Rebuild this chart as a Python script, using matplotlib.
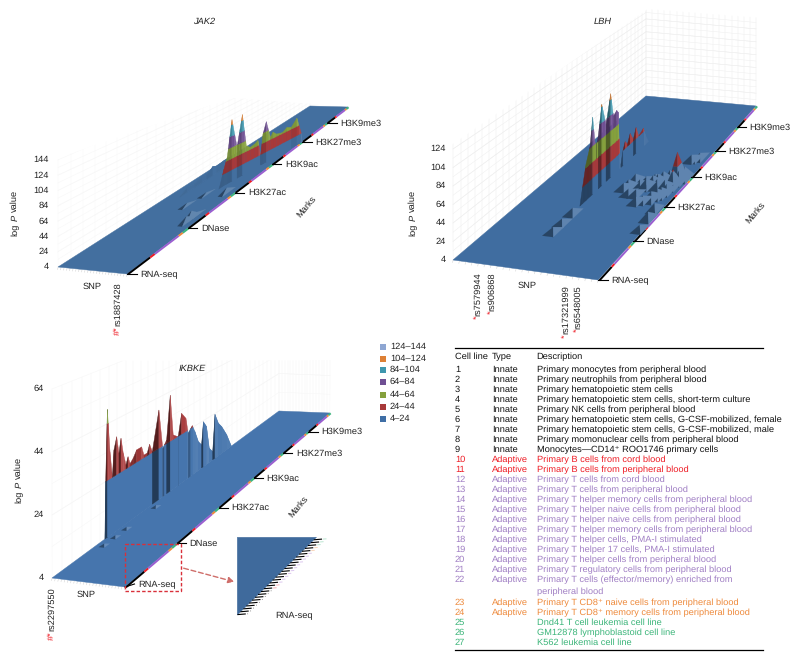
import numpy as np
import matplotlib
matplotlib.use("Agg")
import matplotlib.pyplot as plt
from matplotlib.collections import PolyCollection
from matplotlib.patches import Polygon, Rectangle

plt.rcParams['font.family'] = ['Liberation Sans', 'DejaVu Sans']
plt.rcParams['text.hinting'] = 'no_hinting'
plt.rcParams['text.hinting_factor'] = 8

# ---------- data ----------
BAND_LABELS = ['124–144', '104–124', '84–104', '64–84', '44–64', '24–44', '4–24']
BAND_LOW = [124, 104, 84, 64, 44, 24, 4]
BAND_COLORS = ['#8ea6d2', '#dd8035', '#3e97ae', '#6f4f93', '#85a03c', '#a8393a', '#3f6ea5']
MARKS = ['RNA-seq', 'DNase', 'H3K27ac', 'H3K9ac', 'H3K27me3', 'H3K9me3']
CELL_GROUP_SIZES = [9, 2, 11, 2, 3]
CELL_GROUP_COLORS = ['#000000', '#ee1c25', '#9b5fd0', '#ee8a3c', '#3bb57c']

JAK2_MAIN_T = [.50, .504, .522, .537, .557, .579, .602, .619, .636, .655, .669, .681, .691, .705, .723, .734,
               .749, .763, .775, .794, .813, .837, .856, .86]
JAK2_MAIN_V = [4, 7, 32, 51, 113, 60, 115, 54, 48, 50, 54, 23, 62, 83, 48, 56, 49, 47, 46, 52, 48, 62, 24, 4]
JAK2_BACK_T = [.44, .47, .50, .53, .55, .574, .59, .62, .66, .70, .74, .76]
JAK2_BACK_V = [4, 12, 10, 14, 12, 20, 16, 18, 16, 14, 12, 4]
JAK2_BUMP_S = [.85, .85, .85, .85, .55, .50]
JAK2_BUMP_T = [.31, .332, .355, .488, .47, .40]
JAK2_BUMP_V = [12, 15, 7, 11, 6, 7]

LBH_MAIN_T = [.37, .385, .405, .427, .442, .455, .464, .473, .493, .517, .543, .558, .577, .585, .592, .60, .612,
              .624, .637, .652, .67, .685, .70, .726, .74, .755]
LBH_MAIN_V = [4, 24, 49, 66, 100, 66, 62, 70, 107, 77, 112, 80, 84, 80, 30, 8, 24, 33, 27, 38, 26, 39, 24, 29, 15, 4]
LBH_BUMP_S = [.42, .42, .42, .62, .63, .69, .74, .775, .80, .83, .87, .915, .93, .96, .59, .77, .81, .85, .885, .905,
              .92, .95, .96, .97, .88, .93, .90, .66, .72, .70, .76, .82, .88, .94, .86]
LBH_BUMP_T = [.22, .27, .33, .50, .535, .515, .515, .53, .54, .55, .56, .57, .53, .58, .495, .43, .44, .46, .47, .48,
              .50, .40, .35, .29, .685, .70, .69, .47, .47, .545, .555, .52, .52, .56, .45]
LBH_BUMP_V = [9, 9, 10, 14, 14, 12, 14, 16, 16, 18, 18, 40, 26, 20, 10, 10, 10, 12, 14, 14,
              14, 12, 12, 9, 10, 10, 8, 9, 10, 10, 12, 14, 14, 18, 8]

IKBKE_MAIN_T = [.233, .2365, .244, .2555, .266, .273, .285, .295, .304, .314, .326, .335, .344, .358, .373, .395, .405,
                .42, .43, .442, .471, .488, .505, .521, .534, .556, .571, .59, .60, .618, .63, .645, .659, .667, .681,
                .693, .708, .718, .733, .748, .77, .79]
IKBKE_MAIN_V = [4, 24, 49, 33.6, 24.3, 33.4, 37.6, 31.2, 36.2, 30.3, 25.5, 28, 25, 26.3, 28.6, 28.6, 25,
                25, 27.8, 24.3, 39, 23, 25.4, 42.5, 25.8, 23.8, 32.6, 29.5, 22.7, 24.8, 21.5, 16.3, 14, 23.5, 20.5,
                10.2, 7.6, 23.6, 18.6, 16, 10.7, 4]
IKBKE_BUMP_S = [.10, .10, .10, .10]
IKBKE_BUMP_T = [.20, .25, .30, .43]
IKBKE_BUMP_V = [4.6, 4.6, 4.6, 4.6]

CELL_IDS = ['1', '2', '3', '4', '5', '6', '7', '8', '9', '10', '11', '12', '13', '14', '15', '16', '17', '18', '19',
            '20', '21', '22', '', '23', '24', '25', '26', '27']
CELL_TYPES = ['Innate'] * 9 + ['Adaptive'] * 2 + ['Adaptive'] * 11 + [''] + ['Adaptive'] * 2 + [''] * 3
CELL_DESCS = ['Primary monocytes from peripheral blood', 'Primary neutrophils from peripheral blood',
              'Primary hematopoietic stem cells', 'Primary hematopoietic stem cells, short-term culture',
              'Primary NK cells from peripheral blood', 'Primary hematopoietic stem cells, G-CSF-mobilized, female',
              'Primary hematopoietic stem cells, G-CSF-mobilized, male', 'Primary momonuclear cells from peripheral blood',
              'Monocytes—CD14⁺ ROO1746 primary cells', 'Primary B cells from cord blood',
              'Primary B cells from peripheral blood', 'Primary T cells from cord blood',
              'Primary T cells from peripheral blood', 'Primary T helper memory cells from peripheral blood',
              'Primary T helper naive cells from peripheral blood', 'Primary T helper naive cells from peripheral blood',
              'Primary T helper memory cells from peripheral blood', 'Primary T helper cells, PMA-I stimulated',
              'Primary T helper 17 cells, PMA-I stimulated', 'Primary T helper cells from peripheral blood',
              'Primary T regulatory cells from peripheral blood', 'Primary T cells (effector/memory) enriched from',
              'peripheral blood', 'Primary T CD8⁺ naive cells from peripheral blood',
              'Primary T CD8⁺ memory cells from peripheral blood', 'Dnd41 T cell leukemia cell line',
              'GM12878 lymphoblastoid cell line', 'K562 leukemia cell line']
CELL_COLORS = ['k'] * 9 + ['r'] * 2 + ['p'] * 12 + ['o'] * 2 + ['g'] * 3

# ---------- page ----------
fig = plt.figure(figsize=(8.0, 6.59), dpi=100)
ax = fig.add_axes([0, 0, 1, 1])
ax.set_xlim(0, 800)
ax.set_ylim(659, 0)
ax.axis('off')
FS = 6.7
LEVELS = sorted(BAND_LOW) + [144]
LOW2COLOR = dict(zip(BAND_LOW, BAND_COLORS))


def shade(c, f):
    rgb = np.array(matplotlib.colors.to_rgb(c))
    if f < 1:
        return tuple(rgb * f)
    return tuple(rgb + (1 - rgb) * (f - 1))


class Panel:
    def __init__(self, fl, fr, bl, br, vs, a, plane, dark, wall, wall_col, rna_dy=0):
        self.fl, self.fr, self.bl, self.br = map(np.array, (fl, fr, bl, br))
        self.vs, self.a, self.plane, self.dark = vs, a, plane, dark
        self.wall, self.wall_col, self.rna_dy = wall, wall_col, rna_dy

    def P(self, s, t, v=4.0, drop=None):
        s, t, v = np.broadcast_arrays(np.asarray(s, float), np.asarray(t, float), np.asarray(v, float))
        fx = (1 - s) * self.fl[0] + s * self.fr[0]
        fy = (1 - s) * self.fl[1] + s * self.fr[1]
        bx = (1 - s) * self.bl[0] + s * self.br[0]
        by = (1 - s) * self.bl[1] + s * self.br[1]
        sc = self.vs * (1 - (self.a - 1) / self.a * t)
        y = (1 - t) * fy + t * by - (v - 4) * sc
        if drop is not None:
            y = y + np.clip((t - drop[0]) / (drop[1] - drop[0]), 0, 1) * drop[2]
        return (1 - t) * fx + t * bx, y

    def persp(self, m):
        return self.a * m / (1 + (self.a - 1) * m)

    def color(self, lo):
        return self.plane if lo == 4 else LOW2COLOR[lo]


def walls(p, vtop, zticks):
    clip = Polygon(p.wall, closed=True, transform=ax.transData, fc='none', ec='none')
    ax.add_patch(clip)
    segs = []
    for v in list(zticks) + list(np.arange(4, vtop, 10.0)):
        segs.append(p.P(0.0, np.array([0, 1.0]), v))
        segs.append(p.P(np.array([0, 1.0]), 1.0, v))
    for m in np.linspace(0, 1, 37):
        segs.append(p.P(0.0, p.persp(m), np.array([4, vtop])))
    for s in np.linspace(0, 1, 19):
        segs.append(p.P(s, 1.0, np.array([4, vtop])))
    for xs, ys in segs:
        ln, = ax.plot(xs, ys, color=p.wall_col, lw=0.35, zorder=1)
        ln.set_clip_path(clip)


def plane(p):
    xs, ys = p.P(np.array([0, 1, 1, 0.]), np.array([0, 0, 1, 1.]))
    ax.add_patch(Polygon(np.c_[xs, ys], closed=True, fc=p.plane, ec=p.plane, lw=0.3, zorder=2))
    for s in np.linspace(0, 1, 24):
        x, y = p.P(s, 0.0)
        ax.plot([x, x - 0.5], [y + 0.5, y + 2.5], color='#d4d4d4', lw=0.4, zorder=1.5)
    n = sum(CELL_GROUP_SIZES)
    for k in range(len(MARKS)):
        pos = 0
        for size, c in zip(CELL_GROUP_SIZES, CELL_GROUP_COLORS):
            ts = p.persp((k + np.array([pos, pos + size]) / n) / len(MARKS))
            x, y = p.P(1.008, ts)
            ax.plot(x + 0.3, y + 0.3, color=c, lw=1.4, zorder=2.5, solid_capstyle='butt')
            pos += size
    for k, name in enumerate(MARKS):
        x, y = p.P(1.0, p.persp(k / len(MARKS)))
        dy = p.rna_dy if k == 0 else 0
        ax.plot([x, x + 9.5], [y, y + dy], color='k', lw=0.8, zorder=6)
        ax.text(x + 13, y + 0.5 + dy, name, fontsize=FS, va='center', ha='left', zorder=6, color='#222222')


def ridge(p, s, ts, vs, base_f=1.0, drop=None):
    tt, vv, rr = [ts[0]], [vs[0]], []
    for t0, t1, v0, v1 in zip(ts[:-1], ts[1:], vs[:-1], vs[1:]):
        crossings = [l for l in LEVELS if min(v0, v1) < l < max(v0, v1)]
        crossings.sort(reverse=v1 < v0)
        for l in crossings:
            tt.append(t0 + (l - v0) / (v1 - v0) * (t1 - t0))
            vv.append(l)
            rr.append(v1 - v0)
        tt.append(t1)
        vv.append(v1)
        rr.append(v1 - v0)
    polys, cols = [], []
    for t0, t1, v0, v1, rise in zip(tt[:-1], tt[1:], vv[:-1], vv[1:], rr):
        x0, y0 = p.P(s, t0, v0, drop)
        x1, y1 = p.P(s, t1, v1, drop)
        slope = (y0 - y1) / max(x1 - x0, 0.05)
        f = 1 - p.dark * np.clip(slope / 4, 0, 1) if slope > 0 else 1 + 0.10 * np.clip(-slope / 4, 0, 1)
        for lo, hi in zip(LEVELS[:-1], LEVELS[1:]):
            if max(v0, v1) <= lo:
                continue
            below = min(v0, v1) >= hi
            fb = f if (not below or rise >= 12) else 1.0
            if lo == 4 and fb == 1.0:
                fb = base_f
            a0, b0 = p.P(s, t0, lo, drop)
            a1, b1 = p.P(s, t1, lo, drop)
            c0, d0 = p.P(s, t0, min(v0, hi), drop)
            c1, d1 = p.P(s, t1, min(v1, hi), drop)
            polys.append([(a0, b0), (a1, b1), (c1, d1), (c0, d0)])
            cols.append(shade(p.color(lo), fb))
    xu, yu = p.P(s, np.array(ts), np.minimum(vs, 24.0), drop)
    xb, yb = p.P(s, np.array(ts), 4.0, drop)
    ax.fill(np.r_[xu, xb[::-1]], np.r_[yu, yb[::-1]], color=shade(p.plane, base_f), lw=0, zorder=2.9)
    ax.add_collection(PolyCollection(polys, facecolors=cols, edgecolors=cols, linewidths=0.3, zorder=3))


def pyramids(p, ss, ts, vs, ds=0.04, dt=0.03, z=4):
    order = sorted(range(len(ss)), key=lambda i: (-ts[i], ss[i]))
    for n, i in enumerate(order):
        s, t, v = ss[i], ts[i], vs[i]
        faces = [((s - ds, t - dt), (s + ds, t - dt), 0.62), ((s + ds, t - dt), (s + ds, t + dt), 1.16)]
        for (c1, c2, f) in faces:
            for lo, hi in zip(LEVELS[:-1], LEVELS[1:]):
                if v <= lo:
                    continue
                fa, fb = (lo - 4) / (v - 4), (min(v, hi) - 4) / (v - 4)
                pts = []
                for (cs, ct), fr in ((c1, fa), (c2, fa), (c2, fb), (c1, fb)):
                    x, y = p.P(cs + (s - cs) * fr, ct + (t - ct) * fr, 4 + (v - 4) * fr)
                    pts.append((float(x), float(y)))
                col = shade(p.color(lo), f if lo == 4 else (0.7 if f < 1 else 1.0))
                ax.add_patch(Polygon(pts, closed=True, fc=col, ec=col, lw=0.1, zorder=z + n * 0.001))


def log_p_label(x, yc):
    kw = dict(rotation=90, ha='center', va='bottom', fontsize=FS, color='#222222')
    y0 = yc + 23
    ax.text(x, y0, 'log', **kw)
    ax.text(x, y0 - 15, 'P', style='italic', **kw)
    ax.text(x, y0 - 23.8, 'value', **kw)


def axis_text(p, ticks, lx, title, tx, ylab, snp, marks):
    for v in ticks:
        _, y = p.P(0.0, 0.0, v)
        ax.text(lx, float(y), str(v), ha='right', va='center', fontsize=FS, color='#222222')
    ax.text(*title, tx, style='italic', ha='center', va='center', fontsize=FS, color='#222222')
    log_p_label(*ylab)
    ax.text(*snp, 'SNP', ha='center', va='center', fontsize=FS, color='#222222')
    ax.text(*marks, 'Marks', rotation=50, ha='center', va='center', fontsize=FS, color='#222222')


def rs_label(x, ytop, name, tag):
    t = ax.text(x, ytop, name, rotation=90, ha='center', va='top', fontsize=FS, color='#222222')
    bb = t.get_window_extent(fig.canvas.get_renderer())
    ax.text(x - 0.5, ytop + bb.height + 0.2, tag, rotation=90, ha='center', va='top', fontsize=FS, color='#ee1c25')


# ---------- JAK2 ----------
jak = Panel((58, 267), (127, 274), (310, 106), (348, 107), 0.765, 1.906, '#436f9f', 0.15,
            [(52, 160), (233, 98), (350, 107), (127, 274), (58, 267)], '#f7f7f7')
walls(jak, 144, [4, 24, 44, 64, 84, 104, 124, 144])
plane(jak)
ridge(jak, 0.2, JAK2_BACK_T, JAK2_BACK_V, base_f=1.12)
ridge(jak, 0.65, JAK2_MAIN_T, JAK2_MAIN_V, drop=(.52, .856, 12))
pyramids(jak, JAK2_BUMP_S, JAK2_BUMP_T, JAK2_BUMP_V)
axis_text(jak, [4, 24, 44, 64, 84, 104, 124, 144], 49, (204, 22), 'JAK2', (15, 213), (92, 287), (306, 207))
rs_label(118, 282, 'rs1887428', '#*')

# ---------- LBH ----------
lbh = Panel((453, 260), (598, 280), (646, 96), (756, 106), 0.925, 1.44, '#406da0', 0.4,
            [(447, 148), (648, 9), (763, 18), (756, 106), (598, 280), (453, 260)], '#eeeeee')
walls(lbh, 164, [4, 24, 44, 64, 84, 104, 124, 144])
plane(lbh)
ridge(lbh, 0.42, LBH_MAIN_T, LBH_MAIN_V)
pyramids(lbh, LBH_BUMP_S, LBH_BUMP_T, LBH_BUMP_V)
axis_text(lbh, [4, 24, 44, 64, 84, 104, 124], 446, (603, 22), 'LBH', (413, 213), (527, 286), (755, 213))
rs_label(478, 272, 'rs7579944', '*')
rs_label(492, 272, 'rs906868', '*')
rs_label(566, 285, 'rs17321999', '*')
rs_label(578, 285, 'rs6548005', '*')

# ---------- IKBKE ----------
ikb = Panel((52, 578), (125, 587), (279, 411), (330, 413), 3.15, 1.68, '#4675ad', 0.5,
            [(48, 387), (107, 361), (332, 360), (330, 413), (125, 587), (52, 578)], '#f6f6f6', rna_dy=-3)
walls(ikb, 64, [4, 24, 44, 64])
plane(ikb)
ridge(ikb, 0.0, IKBKE_MAIN_T, IKBKE_MAIN_V)
pyramids(ikb, IKBKE_BUMP_S, IKBKE_BUMP_T, IKBKE_BUMP_V, ds=0.04, dt=0.012)
axis_text(ikb, [4, 24, 44, 64], 44, (192, 369), 'IKBKE', (19, 480), (86, 595), (298, 507))
rs_label(52, 587, 'rs2297550', '#*')

# ---------- zoom inset ----------
ax.add_patch(Rectangle((125, 544), 56, 46.7, fill=False, ec='#d9303a', ls=(0, (2.5, 1.5)), lw=1.0, zorder=7))
ax.annotate('', xy=(237, 582.5), xytext=(181, 567.5),
            arrowprops=dict(arrowstyle='-|>', ls=(0, (3.5, 2)), color='#cf6e6a', lw=1.0, mutation_scale=9), zorder=7)
tri = [(237.3, 537.3), (316.5, 537.3), (237.3, 615)]
ax.add_patch(Polygon(tri, closed=True, fc='#3f6a9c', ec='#3f6a9c', lw=0.3, zorder=3))
n_cells = sum(CELL_GROUP_SIZES)
cell_cols = sum(([c] * k for k, c in zip(CELL_GROUP_SIZES, CELL_GROUP_COLORS)), [])
for i, c in enumerate(cell_cols):
    f = (i + 0.15) / n_cells
    x = 237.3 + f * 79.2
    y = 615 - f * 77.7
    ax.plot([x + 0.3, x + 7.5], [y, y - 0.6], color='k', lw=0.8, zorder=3)
    if c != '#000000':
        ax.plot([x + 9.5, x + 12], [y - 0.7, y - 0.9], color=c, lw=0.7, alpha=0.35, zorder=3)
    else:
        ax.plot([x + 9.5, x + 11], [y - 0.7, y - 0.9], color='#777777', lw=0.6, ls=':', zorder=3)
ax.text(294, 616, 'RNA-seq', ha='center', va='center', fontsize=FS, color='#222222')

# ---------- legend ----------
LEG_Y = [346.7, 358.7, 369.7, 382, 395, 407, 419]
for lab, c, y in zip(BAND_LABELS, BAND_COLORS, LEG_Y):
    ax.add_patch(Rectangle((380, y - 3), 6, 6, fc=c, ec='none'))
    ax.text(390, y, lab, ha='left', va='center', fontsize=FS, color='#222222')

# ---------- table ----------
TBL_COL = {'k': '#111111', 'r': '#ee1c25', 'p': '#a07fc4', 'o': '#ee8a3c', 'g': '#3cb57a'}
ax.plot([455, 763], [348.3, 348.3], color='k', lw=0.9)
ax.plot([455, 763], [650.3, 650.3], color='k', lw=0.9)
ax.text(455, 356.7, 'Cell line', fontsize=FS, va='center', color='#111111')
ax.text(491.7, 356.7, 'Type', fontsize=FS, va='center', color='#111111')
ax.text(536.7, 356.7, 'Description', fontsize=FS, va='center', color='#111111')
ROW_Y = [370 + 10.0 * i for i in range(22)] + [591.7, 603, 613, 623, 633, 642.7]
for y, cid, typ, desc, c in zip(ROW_Y, CELL_IDS, CELL_TYPES, CELL_DESCS, CELL_COLORS):
    col = TBL_COL[c]
    ax.text(455, y, cid, fontsize=FS, va='center', color=col)
    ax.text(491.7, y, typ, fontsize=FS, va='center', color=col)
    ax.text(536.7, y, desc, fontsize=FS, va='center', color=col)

fig.savefig('out.png', dpi=100)
